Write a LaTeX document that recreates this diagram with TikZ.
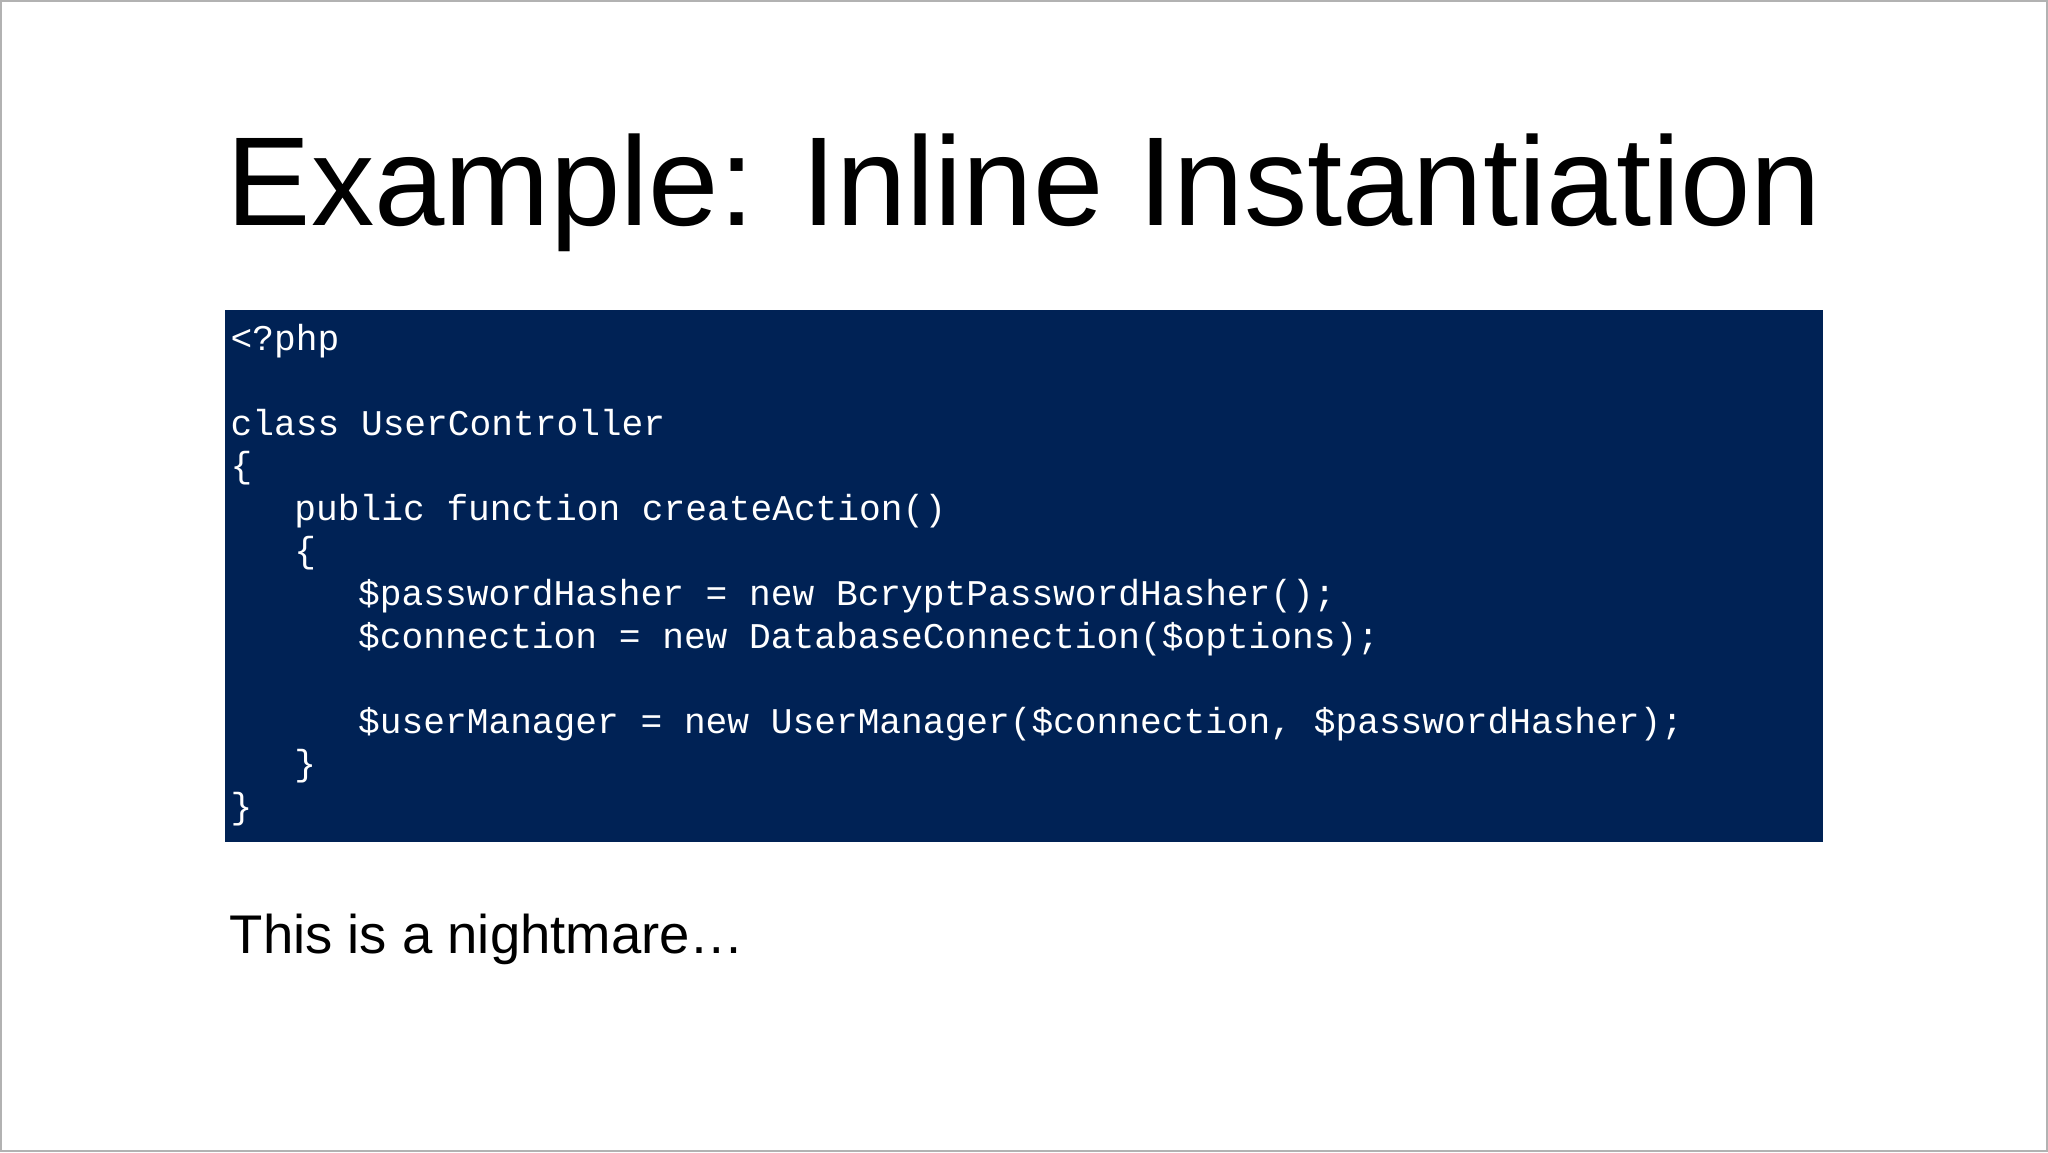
\documentclass[tikz,border=0pt]{standalone}
\usepackage{fontspec}
\setmainfont{Liberation Sans}
\setmonofont{Liberation Mono}
\definecolor{navy}{HTML}{002255}
\begin{document}
\begin{tikzpicture}[x=1cm,y=1cm,
  code/.style={anchor=base west,inner sep=0pt,text=white,font=\fontsize{10.3pt}{12pt}\ttfamily},
  title/.style={anchor=base,inner sep=0pt,font=\fontsize{36pt}{40pt}\selectfont}]
\fill[white] (0,0) rectangle (20.48,11.52);
\draw[gray!60,line width=0.6pt] (0.01,0.01) rectangle (20.47,11.51);
\useasboundingbox (0,0) rectangle (20.48,11.52);
\node[title] (t) at (10.24,9.27) {Example: Inline Instantiation};
\fill[navy] (2.25,3.10) rectangle (18.23,8.42);
\def\lh{0.426}
\def\cw{0.2125}
\node[code] (l0) at (2.30,8.02) {<?php};
\node[code] (l2) at (2.30,8.02-2*\lh) {class UserController};
\node[code] (l3) at (2.30,8.02-3*\lh) {\{};
\node[code] (l4) at (2.30+3*\cw,8.02-4*\lh) {public function createAction()};
\node[code] (l5) at (2.30+3*\cw,8.02-5*\lh) {\{};
\node[code] (l6) at (2.30+6*\cw,8.02-6*\lh) {\$passwordHasher = new BcryptPasswordHasher();};
\node[code] (l7) at (2.30+6*\cw,8.02-7*\lh) {\$connection = new DatabaseConnection(\$options);};
\node[code] (l9) at (2.30+6*\cw,8.02-9*\lh) {\$userManager = new UserManager(\$connection, \$passwordHasher);};
\node[code] (l10) at (2.30+3*\cw,8.02-10*\lh) {\}};
\node[code] (l11) at (2.30,8.02-11*\lh) {\}};
\node[anchor=base west,inner sep=0pt,font=\fontsize{15.5pt}{18pt}\selectfont] (n) at (2.29,1.98) {This is a nightmare…};
\end{tikzpicture}
\end{document}
